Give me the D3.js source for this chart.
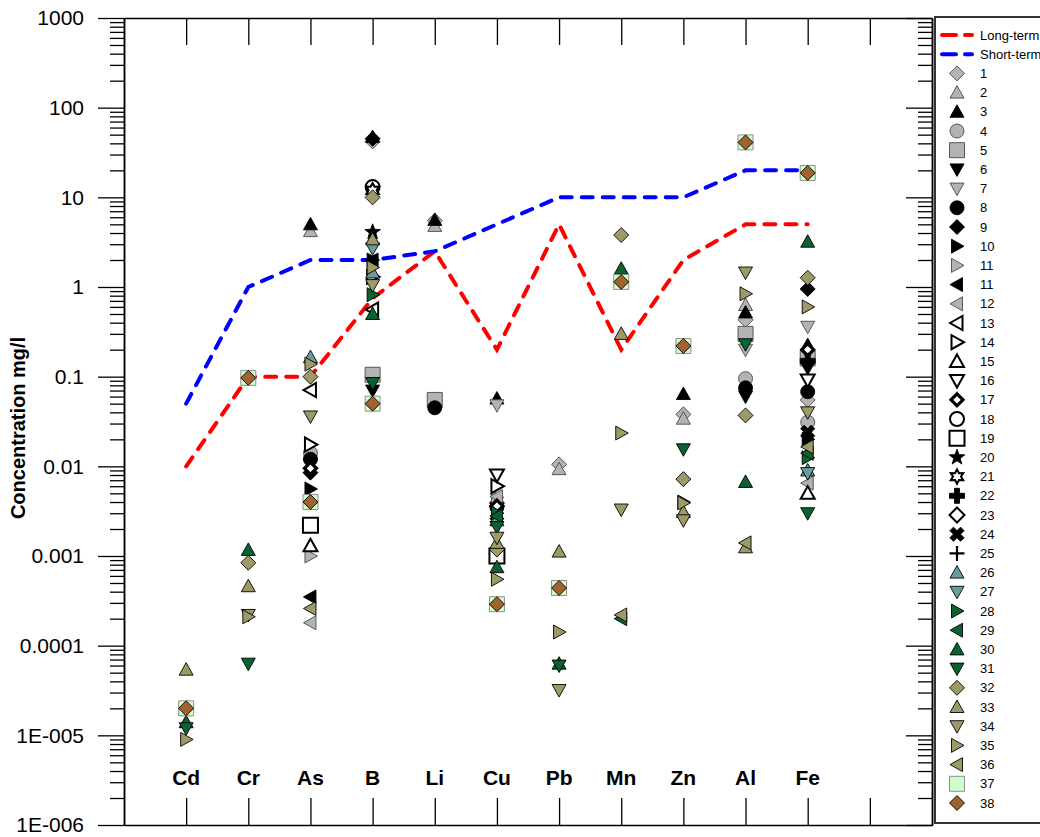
<!DOCTYPE html>
<html>
<head>
<meta charset="utf-8">
<script src="https://cdn.jsdelivr.net/npm/d3@7"></script>
<style>
  body { margin: 0; background: #fff; }
  svg { display: block; font-family: "Liberation Sans", Arial, sans-serif; }
</style>
</head>
<body>
<svg id="chart" width="1040" height="837"></svg>
<script>
// Elements along the x axis
const elements = ["Cd", "Cr", "As", "B", "Li", "Cu", "Pb", "Mn", "Zn", "Al", "Fe"];

// Guideline limits (mg/l)
const longTerm  = [0.01, 0.1, 0.1, 0.75, 2.5, 0.2, 5, 0.2, 2, 5, 5];
const shortTerm = [0.05, 1, 2, 2, 2.5, 5, 10, 10, 10, 20, 20];

// Log axis ticks
const yTickValues = [1e-6, 1e-5, 1e-4, 1e-3, 1e-2, 1e-1, 1, 10, 100, 1000];
const yTickLabels = ["1E-006", "1E-005", "0.0001", "0.001", "0.01", "0.1", "1", "10", "100", "1000"];

// Sample series: key, legend label, marker shape, fill
const seriesKeys   = ["1","2","3","4","5","6","7","8","9","10","11a","11b","12","13","14","15","16","17","18","19","20","21","22","23","24","25","26","27","28","29","30","31","32","33","34","35","36","37","38"];
const seriesLabels = ["1","2","3","4","5","6","7","8","9","10","11","11","12","13","14","15","16","17","18","19","20","21","22","23","24","25","26","27","28","29","30","31","32","33","34","35","36","37","38"];
const seriesShapes = ["diamond","up","up","circle","square","down","down","circle","diamond","right","right","left","left","left","right","up","down","diamondBold","circle","square","star5","star6","plus","diamond","cross","plusThin","up","down","right","left","up","down","diamond","up","down","right","left","square","diamond"];
const seriesFills  = ["gray","gray","black","gray","gray","black","gray","black","black","black","gray","black","gray","white","white","white","white","white","white","white","black","white","black","white","black","none","teal","teal","green","green","green","green","olive","olive","olive","olive","olive","mint","brown"];

// Measured concentrations per element: [series key, mg/l]
const cdValues = [["30",1.4e-5],["31",1.2e-5],["33",5.4e-5],["35",9e-6],["37",2e-5],["38",2e-5]];
const crValues = [["30",0.00117],["31",6.3e-5],["32",0.00084],["33",0.00046],["34",0.00022],["35",0.00021],["37",0.097],["38",0.097]];
const asValues = [["2",4.2],["3",5.0],["4",0.014],["6",0.0105],["8",0.012],["9",0.0085],["10",0.0056],["11a",0.001],["11b",0.00035],["12",0.00018],["13",0.071],["14",0.0175],["15",0.0013],["17",0.0095],["19",0.0022],["26",0.165],["32",0.1],["34",0.036],["35",0.138],["36",0.00026],["37",0.004],["38",0.004]];
const bValues  = [["1",42],["3",47],["5",0.105],["6",0.07],["9",45],["10",2.0],["11b",2.0],["13",0.56],["14",1.3],["18",13],["20",4.1],["21",12],["26",1.45],["27",2.7],["28",0.82],["30",0.5],["31",0.085],["32",10],["33",3.4],["34",1.05],["35",1.65],["37",0.05],["38",0.05]];
const liValues = [["1",5.5],["2",4.8],["3",5.6],["5",0.055],["8",0.045]];
const cuValues = [["1",0.00095],["3",0.057],["7",0.048],["8",0.0035],["9",0.0039],["11a",0.0045],["12",0.0046],["14",0.006],["16",0.008],["17",0.0036],["19",0.001],["26",0.0025],["27",0.0023],["28",0.003],["29",0.0028],["30",0.00075],["31",0.0021],["32",0.00118],["33",0.0014],["34",0.0016],["35",0.00055],["37",0.00029],["38",0.00029]];
const pbValues = [["1",0.0105],["2",0.0093],["30",6.3e-5],["31",6.0e-5],["33",0.00112],["34",3.2e-5],["35",0.000142],["37",0.00044],["38",0.00044]];
const mnValues = [["29",0.0002],["30",1.6],["32",3.8],["33",0.3],["34",0.0033],["35",0.0235],["36",0.00022],["37",1.14],["38",1.14]];
const znValues = [["1",0.038],["2",0.034],["3",0.064],["28",0.004],["31",0.0155],["32",0.0072],["33",0.0031],["34",0.0025],["35",0.0039],["37",0.22],["38",0.22]];
const alValues = [["1",0.43],["2",0.63],["3",0.52],["4",0.095],["5",0.3],["6",0.06],["7",0.2],["8",0.075],["30",0.0067],["31",0.23],["32",0.037],["33",0.00125],["34",1.45],["35",0.84],["36",0.0014],["37",41],["38",41]];
const feValues = [["1",0.055],["3",0.225],["4",0.031],["5",0.16],["6",0.125],["7",0.36],["8",0.068],["9",0.95],["10",0.02],["12",0.0065],["15",0.005],["16",0.092],["17",0.2],["22",0.15],["24",0.024],["26",0.009],["27",0.0084],["28",0.0125],["29",0.014],["30",3.2],["31",0.003],["32",1.27],["34",0.04],["35",0.6],["36",0.0165],["37",18.7],["38",18.7]];

const elementValues = [cdValues, crValues, asValues, bValues, liValues, cuValues, pbValues, mnValues, znValues, alValues, feValues];

// Palette
const fillColors = {
  gray: "#b3b3b3", black: "#000000", white: "#ffffff", none: "none",
  teal: "#6a9c9c", green: "#0a6132", olive: "#9d9a68", mint: "#ccffcc", brown: "#a0622e"
};

// Layout
const plot = { left: 124, right: 932, top: 18, bottom: 825 };

const svg = d3.select("#chart");

const x = d3.scaleLinear().domain([0, 13]).range([plot.left, plot.right]);
const y = d3.scaleLog().domain([1e-6, 1000]).range([plot.bottom, plot.top]);

// Minor tick values 2..9 in every decade
const minorTicks = [];
for (let e = -6; e < 3; e++) {
  for (let m = 2; m <= 9; m++) minorTicks.push(m * Math.pow(10, e));
}

// Marker outline geometry
function shapePath(shape) {
  switch (shape) {
    case "diamond": return "M0,-7.5L7.5,0L0,7.5L-7.5,0Z";
    case "diamondBold": return "M0,-6L6,0L0,6L-6,0Z";
    case "up": return "M0,-7L7,5.5L-7,5.5Z";
    case "down": return "M0,7L7,-5.5L-7,-5.5Z";
    case "right": return "M7,0L-5.5,-7L-5.5,7Z";
    case "left": return "M-7,0L5.5,-7L5.5,7Z";
    case "square": return "M-7.5,-7.5H7.5V7.5H-7.5Z";
    case "circle": return d3.symbol(d3.symbolCircle, Math.PI * 49)();
    case "star5": {
      const pts = [];
      for (let i = 0; i < 10; i++) {
        const r = i % 2 ? 3.4 : 8.2;
        const a = -Math.PI / 2 + i * Math.PI / 5;
        pts.push([r * Math.cos(a), r * Math.sin(a)]);
      }
      return "M" + pts.map(p => p.join(",")).join("L") + "Z";
    }
    case "star6": {
      const pts = [];
      for (let i = 0; i < 12; i++) {
        const r = i % 2 ? 4.0 : 7.2;
        const a = -Math.PI / 2 + i * Math.PI / 6;
        pts.push([r * Math.cos(a), r * Math.sin(a)]);
      }
      return "M" + pts.map(p => p.join(",")).join("L") + "Z";
    }
    case "plus": return "M-2.5,-7.5H2.5V-2.5H7.5V2.5H2.5V7.5H-2.5V2.5H-7.5V-2.5H-2.5Z";
    case "cross": return "M-2.5,-7.5H2.5V-2.5H7.5V2.5H2.5V7.5H-2.5V2.5H-7.5V-2.5H-2.5Z";
    case "plusThin": return "M0,-7.5V7.5M-7.5,0H7.5";
  }
}

function styleMarker(sel, idx) {
  const shape = seriesShapes[idx];
  const fillKey = seriesFills[idx];
  sel.attr("d", shapePath(shape))
    .attr("fill", fillColors[fillKey])
    .attr("stroke", fillKey === "mint" ? "#858585" : fillKey === "gray" ? "#4a4a4a" : "#000")
    .attr("stroke-width", fillKey === "white" ? 2 : fillKey === "none" ? 2.2 : 0.9)
    .attr("stroke-linejoin", "miter");
  if (shape === "diamondBold") sel.attr("stroke-width", 3.2);
}

// Guideline lines
const line = d3.line()
  .x((d, i) => x(i + 1))
  .y(d => y(d));

svg.append("path")
  .datum(longTerm)
  .attr("d", line)
  .attr("fill", "none")
  .attr("stroke", "#ff0000")
  .attr("stroke-width", 4)
  .attr("stroke-linecap", "round")
  .attr("stroke-dasharray", "11 10");

svg.append("path")
  .datum(shortTerm)
  .attr("d", line)
  .attr("fill", "none")
  .attr("stroke", "#0000ff")
  .attr("stroke-width", 4)
  .attr("stroke-linecap", "round")
  .attr("stroke-dasharray", "11 10");

// Data markers, drawn series by series
const points = [];
elementValues.forEach((vals, ei) => {
  vals.forEach(([key, v]) => {
    points.push({ el: ei, s: seriesKeys.indexOf(key), v });
  });
});
points.sort((a, b) => a.s - b.s || a.el - b.el);

svg.append("g").selectAll("path")
  .data(points)
  .join("path")
  .each(function (d) {
    const sel = d3.select(this);
    styleMarker(sel, d.s);
    const rot = seriesShapes[d.s] === "cross" ? " rotate(45)" : "";
    sel.attr("transform", `translate(${x(d.el + 1)},${y(d.v)})${rot}`);
  });

// Axes
const axisStyle = g => {
  g.selectAll("path.domain").attr("stroke", "#000").attr("stroke-width", 1.5);
  g.selectAll(".tick line").attr("stroke", "#000").attr("stroke-width", 1.3);
};

// Left axis, major ticks with labels
svg.append("g")
  .attr("transform", `translate(${plot.left},0)`)
  .call(d3.axisLeft(y).tickValues(yTickValues).tickSize(26).tickSizeOuter(0).tickPadding(14)
    .tickFormat((d, i) => yTickLabels[i]))
  .call(axisStyle)
  .call(g => g.selectAll("text").attr("font-size", 21).attr("fill", "#000")
    .attr("font-family", "'Liberation Sans', Arial, sans-serif"));

// Left axis, minor ticks
svg.append("g")
  .attr("transform", `translate(${plot.left},0)`)
  .call(d3.axisLeft(y).tickValues(minorTicks).tickSize(14).tickSizeOuter(0).tickFormat(""))
  .call(axisStyle);

// Right axis, ticks pointing inward
svg.append("g")
  .attr("transform", `translate(${plot.right},0)`)
  .call(d3.axisLeft(y).tickValues(yTickValues).tickSize(26).tickSizeOuter(0).tickFormat(""))
  .call(axisStyle);
svg.append("g")
  .attr("transform", `translate(${plot.right},0)`)
  .call(d3.axisLeft(y).tickValues(minorTicks).tickSize(14).tickSizeOuter(0).tickFormat(""))
  .call(axisStyle);

// Top and bottom axes with category ticks
const catTicks = d3.range(1, 13);
svg.append("g")
  .attr("transform", `translate(0,${plot.top})`)
  .call(d3.axisBottom(x).tickValues(catTicks).tickSize(27).tickSizeOuter(0).tickFormat(""))
  .call(axisStyle);
svg.append("g")
  .attr("transform", `translate(0,${plot.bottom})`)
  .call(d3.axisTop(x).tickValues(catTicks).tickSize(27).tickSizeOuter(0).tickFormat(""))
  .call(axisStyle);

// Element names inside the plot
svg.append("g").selectAll("text")
  .data(elements)
  .join("text")
  .attr("x", (d, i) => x(i + 1))
  .attr("y", 785)
  .attr("text-anchor", "middle")
  .attr("font-size", 21)
  .attr("font-weight", "bold")
  .text(d => d);

// Y axis title
svg.append("text")
  .attr("transform", "translate(25,428) rotate(-90)")
  .attr("text-anchor", "middle")
  .attr("font-size", 20)
  .attr("font-weight", "bold")
  .text("Concentration mg/l");

// Legend
const legend = svg.append("g");
legend.append("rect")
  .attr("x", 935).attr("y", 17)
  .attr("width", 120).attr("height", 806)
  .attr("fill", "#fff")
  .attr("stroke", "#333")
  .attr("stroke-width", 2);

const legendStep = 19.2;
const legendTop = 35;
[["Long-term", "#ff0000"], ["Short-term", "#0000ff"]].forEach(([name, color], i) => {
  const ly = legendTop + i * legendStep;
  legend.append("line")
    .attr("x1", 942).attr("x2", 972)
    .attr("y1", ly).attr("y2", ly)
    .attr("stroke", color)
    .attr("stroke-width", 4)
    .attr("stroke-linecap", "round")
    .attr("stroke-dasharray", "14 9");
  legend.append("text")
    .attr("x", 980).attr("y", ly)
    .attr("dy", "0.35em")
    .attr("font-size", 13)
    .text(name);
});

seriesKeys.forEach((key, i) => {
  const ly = legendTop + (i + 2) * legendStep;
  const m = legend.append("path");
  styleMarker(m, i);
  const rot = seriesShapes[i] === "cross" ? " rotate(45)" : "";
  m.attr("transform", `translate(957,${ly})${rot}`);
  legend.append("text")
    .attr("x", 980).attr("y", ly)
    .attr("dy", "0.35em")
    .attr("font-size", 13)
    .text(seriesLabels[i]);
});
</script>
</body>
</html>
